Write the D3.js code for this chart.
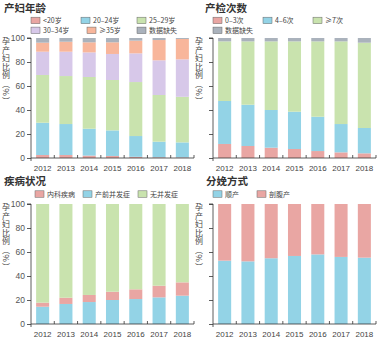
<!DOCTYPE html>
<html><head><meta charset="utf-8">
<script src="https://cdn.jsdelivr.net/npm/d3@7"></script>
<style>body{margin:0;background:#fff}svg{display:block}text{font-family:"Noto Sans CJK SC","Noto Sans",sans-serif}.num{font-family:"Liberation Sans",Arial,sans-serif}</style>
</head><body><svg id="c" width="385" height="343"></svg>
<script>
const years = ["2012","2013","2014","2015","2016","2017","2018"];
const yTicks = [0,20,40,60,80,100];

// 产妇年龄 (stack bottom -> top)
const ageKeys = ["<20岁","20–24岁","25–29岁","30–34岁","≥35岁","数据缺失"];
const ageLt20   = [2.5,2.5,2.0,1.7,1.0,0.6,0.5];
const age20_24  = [26.9,25.8,22.4,21.3,17.3,13.0,12.5];
const age25_29  = [39.8,40.0,43.1,42.0,45.0,38.9,38.0];
const age30_34  = [19.4,20.3,20.5,21.7,23.9,28.9,31.2];
const ageGe35   = [7.5,8.3,8.4,9.7,10.6,16.9,17.0];
const ageMiss   = [3.9,3.1,3.6,3.6,2.2,1.7,0.8];

// 产检次数
const visitKeys = ["0–3次","4–6次","≥7次","数据缺失"];
const visit0_3  = [11.7,10.0,8.6,7.5,5.8,4.7,3.9];
const visit4_6  = [35.8,34.4,31.4,31.1,28.6,23.6,21.1];
const visitGe7  = [49.7,52.8,57.2,58.6,62.8,68.9,71.1];
const visitMiss = [2.8,2.8,2.8,2.8,2.8,2.8,3.9];

// 疾病状况 (stack bottom -> top: 产前并发症, 内科疾病, 无并发症)
const disKeys = ["内科疾病","产前并发症","无并发症"];
const disPrenatal = [14.4,16.7,18.3,20.0,20.8,22.2,23.6];
const disMedical  = [3.4,5.2,5.9,6.9,8.1,9.7,11.1];
const disNone     = [82.2,78.1,75.8,73.1,71.1,68.1,65.3];

// 分娩方式
const delKeys = ["顺产","剖腹产"];
const delVaginal = [52.8,52.2,54.8,56.7,58.0,55.9,55.3];
const delCesarean = [47.2,47.8,45.2,43.3,42.0,44.1,44.7];

const C = {pink:"#e9a6a3", blue:"#93d3e6", green:"#c9e3ae", lav:"#d7c8e9", salmon:"#f8b69b", gray:"#aab2bc"};

const svg = d3.select("#c");

function panel(o){
  const x = d3.scaleBand().domain(years).range([o.x0,o.x1]).paddingInner(0).paddingOuter(0);
  const y = d3.scaleLinear().domain([0,100]).range([o.y1,o.y0]);
  const g = svg.append("g");
  // title
  g.append("text").attr("x",o.tx).attr("y",o.ty).attr("font-size",10.5).attr("font-weight",700).attr("fill","#333").text(o.title);
  // legend
  o.legend.forEach(l=>{
    g.append("rect").attr("x",l.x).attr("y",l.y-3.5).attr("width",9).attr("height",6.5).attr("fill",l.c).attr("stroke","#666").attr("stroke-width",0.5);
    g.append("text").attr("x",l.x+12).attr("y",l.y+2.6).attr("font-size",7).attr("fill","#444").text(l.t);
  });
  // stack
  const rows = years.map((yr,i)=>{const r={year:yr}; o.series.forEach(s=>r[s.k]=s.v[i]); return r;});
  const st = d3.stack().keys(o.series.map(s=>s.k))(rows);
  const bw = x.bandwidth()*0.56;
  st.forEach((layer,li)=>{
    g.selectAll(null).data(layer).enter().append("rect")
      .attr("x",d=>x(d.data.year)+(x.bandwidth()-bw)/2)
      .attr("width",bw)
      .attr("y",d=>y(d[1]))
      .attr("height",d=>y(d[0])-y(d[1]))
      .attr("fill",o.series[li].c);
  });
  // y axis
  const ya = d3.axisLeft(y).tickValues(yTicks).tickSize(4).tickPadding(2);
  if(!o.yLabels) ya.tickFormat("");
  const yg = g.append("g").attr("transform",`translate(${o.x0},0)`).call(ya);
  yg.select(".domain").attr("d",`M-4,${o.y0}H0V${o.y1+3}`);
  yg.selectAll("text").attr("class","num").attr("font-size",8.5).attr("fill","#555");
  yg.selectAll("line,path").attr("stroke","#333").attr("stroke-width",0.8);
  // x axis
  const xa = d3.axisBottom(x).tickSize(0).tickPadding(7);
  const xg = g.append("g").attr("transform",`translate(0,${o.y1})`).call(xa);
  xg.select(".domain").attr("d",`M${o.x0},0H${o.x1}`).attr("stroke","#333").attr("stroke-width",0.8);
  xg.selectAll("text").attr("class","num").attr("font-size",8).attr("fill","#444");
  const bounds = years.map(yy=>x(yy)).concat([o.x1]).slice(1);
  xg.selectAll("line.b").data(bounds).enter().append("line").attr("class","b")
    .attr("x1",d=>d).attr("x2",d=>d).attr("y1",0).attr("y2",-3).attr("stroke","#333").attr("stroke-width",0.8);
  // y label vertical (single text, vertical writing mode)
  g.append("text").attr("x",o.lx).attr("y",o.y0-1)
    .style("writing-mode","vertical-rl").style("letter-spacing","0.6px")
    .attr("font-size",8).attr("fill","#444").text("孕产妇比例（%）");
}

panel({x0:31,x1:194,y0:38,y1:158,tx:4,ty:12.4,title:"产妇年龄",yLabels:true,lx:6,
  series:[{k:ageKeys[0],v:ageLt20,c:C.pink},{k:ageKeys[1],v:age20_24,c:C.blue},{k:ageKeys[2],v:age25_29,c:C.green},
          {k:ageKeys[3],v:age30_34,c:C.lav},{k:ageKeys[4],v:ageGe35,c:C.salmon},{k:ageKeys[5],v:ageMiss,c:C.gray}],
  legend:[{x:31,y:20.7,c:C.pink,t:ageKeys[0]},{x:81,y:20.7,c:C.blue,t:ageKeys[1]},{x:137,y:20.7,c:C.green,t:ageKeys[2]},
          {x:31,y:30.6,c:C.lav,t:ageKeys[3]},{x:87,y:30.6,c:C.salmon,t:ageKeys[4]},{x:137,y:30.6,c:C.gray,t:ageKeys[5]}]});

panel({x0:213,x1:376,y0:38,y1:158,tx:205,ty:12.4,title:"产检次数",yLabels:false,lx:199,
  series:[{k:visitKeys[0],v:visit0_3,c:C.pink},{k:visitKeys[1],v:visit4_6,c:C.blue},{k:visitKeys[2],v:visitGe7,c:C.green},{k:visitKeys[3],v:visitMiss,c:C.gray}],
  legend:[{x:213,y:20.7,c:C.pink,t:visitKeys[0]},{x:263,y:20.7,c:C.blue,t:visitKeys[1]},{x:313,y:20.7,c:C.green,t:visitKeys[2]},
          {x:213,y:30.6,c:C.gray,t:visitKeys[3]}]});

panel({x0:31,x1:194,y0:204,y1:324,tx:4,ty:185,title:"疾病状况",yLabels:true,lx:6,
  series:[{k:disKeys[1],v:disPrenatal,c:C.blue},{k:disKeys[0],v:disMedical,c:C.pink},{k:disKeys[2],v:disNone,c:C.green}],
  legend:[{x:35,y:194.3,c:C.pink,t:disKeys[0]},{x:83,y:194.3,c:C.blue,t:disKeys[1]},{x:138,y:194.3,c:C.green,t:disKeys[2]}]});

panel({x0:213,x1:376,y0:204,y1:324,tx:206,ty:185,title:"分娩方式",yLabels:false,lx:199,
  series:[{k:delKeys[0],v:delVaginal,c:C.blue},{k:delKeys[1],v:delCesarean,c:C.pink}],
  legend:[{x:213,y:194.3,c:C.blue,t:delKeys[0]},{x:257,y:194.3,c:C.pink,t:delKeys[1]}]});
</script></body></html>
